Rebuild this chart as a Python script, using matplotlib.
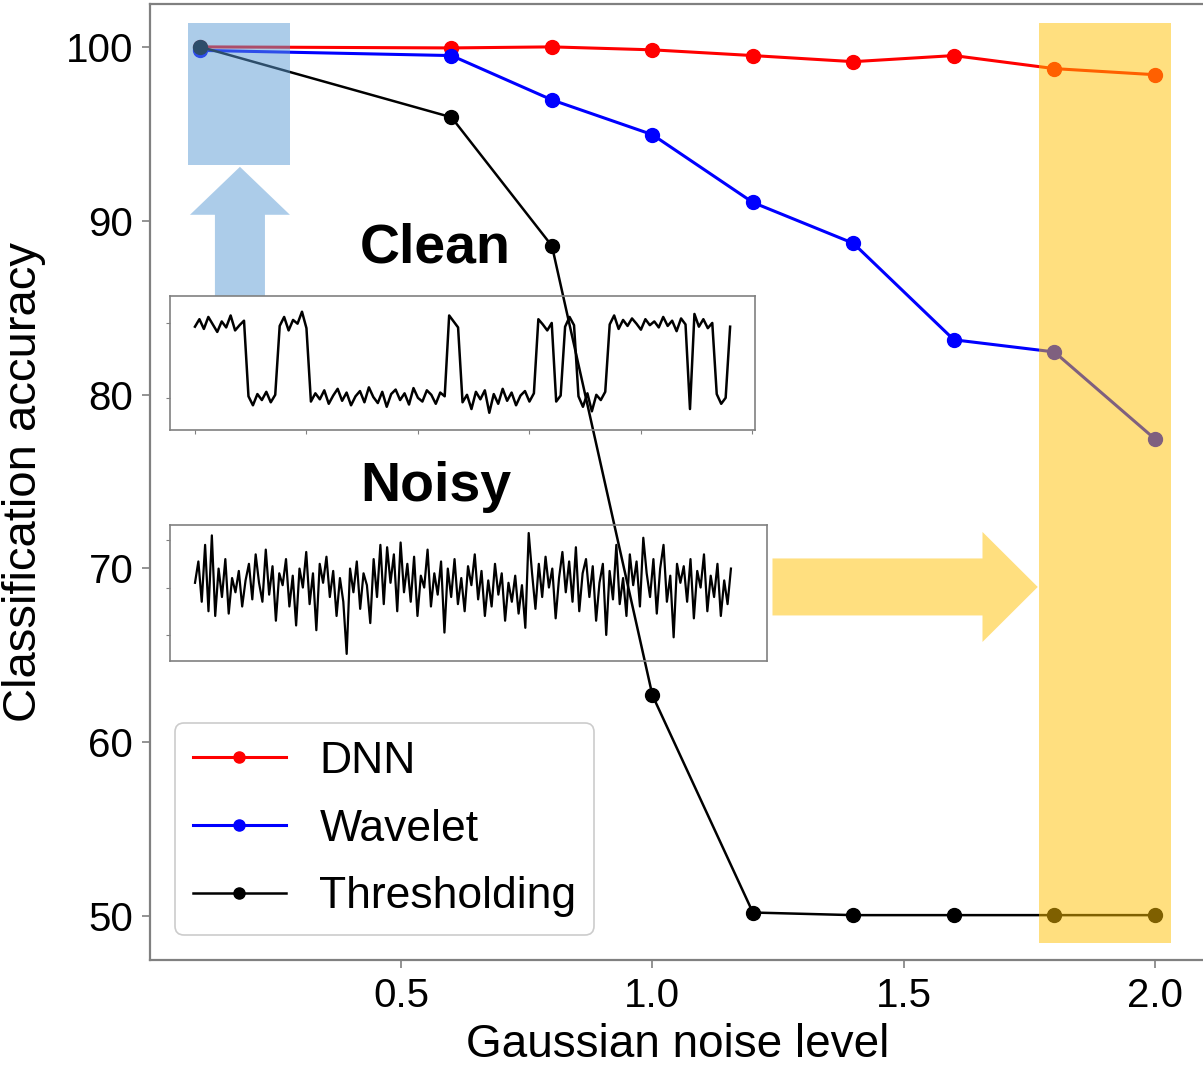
import numpy as np
import matplotlib
matplotlib.use("Agg")
import matplotlib.pyplot as plt
from matplotlib.patches import Rectangle, FancyArrow

plt.rcParams['font.family'] = ['Liberation Sans', 'DejaVu Sans']

# main curves
noise = [0.1, 0.6, 0.8, 1.0, 1.2, 1.4, 1.6, 1.8, 2.0]
dnn = [100.0, 99.94, 100.0, 99.83, 99.5, 99.15, 99.5, 98.75, 98.4]
wavelet = [99.8, 99.5, 96.95, 94.95, 91.05, 88.7, 83.15, 82.45, 77.45]
thresh = [100.0, 95.95, 88.55, 62.7, 50.2, 50.05, 50.05, 50.05, 50.05]

# inset traces (sample index, value)
clean_y = [0.95, 1.05, 0.92, 1.08, 0.98, 0.88, 1.02, 0.94, 1.1, 0.9, 0.97, 1.03,
           0.02, -0.1, 0.05, -0.03, 0.08, -0.06, 0.04,
           0.96, 1.08, 0.9, 1.04, 0.99, 1.15, 0.93,
           -0.05, 0.06, -0.02, 0.1, -0.08, 0.03, 0.12, -0.04, 0.07, -0.1, 0.02, 0.09, -0.06, 0.14, 0.01,
           -0.07, 0.08, -0.12, 0.05, 0.11, -0.03, 0.06, -0.09, 0.13, 0.0, -0.05, 0.1, 0.04, -0.08, 0.07, 0.02,
           1.1, 1.02, 0.94,
           -0.06, 0.04, -0.15, 0.08, -0.02, 0.1, -0.2, 0.05, -0.08, 0.12, -0.04, 0.07, -0.1, 0.03, 0.09, -0.05, 0.06,
           1.05, 0.98, 0.9, 1.0,
           -0.05, 0.03,
           0.95, 1.08, 0.97,
           0.02, -0.12, 0.06, -0.18, 0.04, -0.03, 0.08,
           0.98, 1.1, 0.92, 1.04, 0.96, 1.06, 0.99, 0.91, 1.05, 0.97, 1.02, 0.94, 1.08, 0.96, 1.03, 0.89, 1.06, 0.98,
           -0.15,
           1.12, 0.95, 1.05, 0.93, 1.0,
           0.05, -0.08, 0.0,
           0.95]
noisy_y = [0.1, 0.55, -0.3, 0.9, -0.5, 1.1, -0.6, 0.4, -0.2, 0.6,
           -0.55, 0.2, -0.1, 0.35, -0.4, 0.15, 0.5, -0.25, 0.7, 0.1,
           -0.3, 0.8, -0.15, 0.45, -0.7, 0.3, 0.05, 0.6, -0.4, 0.25,
           -0.8, 0.4, 0.0, 0.75, -0.35, 0.3, -0.9, 0.5, 0.1, 0.65,
           -0.2, 0.35, -0.6, 0.2, -0.3, -1.4, 0.4, -0.1, 0.55, -0.45,
           0.3, 0.05, -0.75, 0.6, -0.2, 0.9, -0.35, 0.85, 0.1, 0.7,
           -0.5, 0.95, -0.1, 0.5, -0.3, 0.65, -0.6, 0.25, 0.0, 0.8,
           -0.4, 0.3, -0.15, 0.55, -0.95, 0.4, -0.2, 0.6, -0.35, 0.2,
           -0.5, 0.45, 0.05, 0.7, -0.25, 0.35, -0.6, 0.15, -0.4, 0.5,
           -0.15, 0.3, -0.7, 0.1, -0.3, 0.25, -0.55, 0.05, -0.85, 1.15,
           0.3, -0.45, 0.5, -0.2, 0.65, 0.0, 0.4, -0.65, 0.2, 0.75,
           -0.1, 0.55, -0.3, 0.85, -0.5, 0.3, 0.6, -0.2, 0.45, -0.7,
           0.1, 0.5, -1.0, 0.35, -0.25, 0.9, -0.35, 0.2, -0.6, 0.7,
           0.05, 0.55, -0.4, 1.05, 0.3, -0.2, 0.6, -0.55, 0.4, 0.9,
           -0.3, 0.25, -1.05, 0.5, 0.1, 0.45, -0.3, 0.6, -0.65, 0.35,
           0.0, 0.7, -0.5, 0.25, -0.2, 0.5, -0.6, 0.15, -0.35, 0.4]

blue = '#5B9BD5'
gold = '#FFC000'
gray = '#808080'

fig = plt.figure(figsize=(12.03, 10.67), dpi=100)
ax = fig.add_axes([0.1247, 0.1003, 0.877, 0.896])

ax.plot(noise, dnn, color='red', lw=2.2, marker='o', ms=10, label='DNN')
ax.plot(noise, wavelet, color='blue', lw=2.2, marker='o', ms=10, label='Wavelet')
ax.plot(noise, thresh, color='black', lw=1.8, marker='o', ms=10, label='Thresholding')

# highlight boxes and arrows
ax.add_patch(Rectangle((0.076, 93.2), 0.203, 8.18, color=blue, alpha=0.5, lw=0, zorder=5))
ax.add_patch(Rectangle((1.769, 48.45), 0.263, 52.93, color=gold, alpha=0.5, lw=0, zorder=5))
ax.add_patch(FancyArrow(0.179, 85.67, 0, 7.43, width=0.0996, head_width=0.199,
                        head_length=2.76, length_includes_head=True,
                        color=blue, alpha=0.5, lw=0, zorder=5))
ax.add_patch(FancyArrow(1.239, 68.93, 0.528, 0, width=3.28, head_width=6.33,
                        head_length=0.11, length_includes_head=True,
                        color=gold, alpha=0.5, lw=0, zorder=5))

ax.text(0.568, 88.4, 'Clean', fontsize=40, fontweight='bold', ha='center', va='center')
ax.text(0.568, 74.7, 'Noisy', fontsize=40, fontweight='bold', ha='center', va='center')

ax.set_xlim(0, 2.1)
ax.set_ylim(47.47, 102.47)
ax.set_xticks([0.5, 1.0, 1.5, 2.0])
ax.set_yticks([50, 60, 70, 80, 90, 100])
ax.tick_params(labelsize=29, length=6, width=1.2, color=gray, pad=6)
for side in ['left', 'bottom', 'top']:
    ax.spines[side].set_color(gray)
    ax.spines[side].set_linewidth(1.6)
ax.spines['right'].set_visible(False)
ax.set_xlabel('Gaussian noise level', fontsize=33, labelpad=6)
ax.set_ylabel('Classification accuracy', fontsize=34, labelpad=14)

leg = ax.legend(loc='lower left', bbox_to_anchor=(0.0237, 0.026), borderaxespad=0,
                fontsize=32, handlelength=2.1, handletextpad=0.75, labelspacing=0.6,
                borderpad=0.4, markerscale=0.8, framealpha=1, edgecolor='#cccccc')
leg.get_frame().set_linewidth(1.2)

# inset signals
ax1 = fig.add_axes([0.1413, 0.597, 0.486, 0.1256])
ax1.patch.set_alpha(0)
ax1.plot(np.arange(len(clean_y)) * 4, clean_y, color='black', lw=1.8)
ax1.set_xlim(-22.4, 502)
ax1.set_ylim(-0.43, 1.36)
ax1.set_xticks([0, 100, 200, 300, 400, 500])
ax1.set_yticks([0, 1])
ax1.tick_params(labelbottom=False, labelleft=False, length=3, color=gray)

ax2 = fig.add_axes([0.1413, 0.3805, 0.496, 0.1275])
ax2.patch.set_alpha(0)
ax2.plot(np.linspace(0, 480, len(noisy_y)), noisy_y, color='black', lw=1.6)
ax2.set_xlim(-22.4, 512)
ax2.set_ylim(-1.55, 1.32)
ax2.set_xticks([])
ax2.set_yticks([-1, 0, 1])
ax2.tick_params(labelleft=False, length=3, color=gray)

for a in (ax1, ax2):
    for s in a.spines.values():
        s.set_color(gray)
        s.set_linewidth(1.2)

fig.savefig('out.png', dpi=100)
